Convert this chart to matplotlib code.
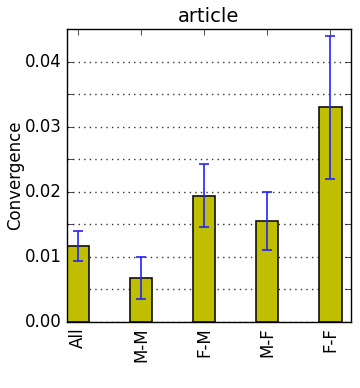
import matplotlib
matplotlib.use("Agg")
import matplotlib.pyplot as plt
import numpy as np

categories = ["All", "M-M", "F-M", "M-F", "F-F"]
values = [0.0117, 0.0068, 0.0194, 0.0155, 0.0330]
errors = [0.0023, 0.0032, 0.0048, 0.0045, 0.0110]
ytick_values = [0.0, 0.005, 0.01, 0.015, 0.02, 0.025, 0.03, 0.035, 0.04]
ytick_labels = ["0.00", "", "0.01", "", "0.02", "", "0.03", "", "0.04"]

plt.style.use("classic")
fig = plt.figure(figsize=(3.6, 3.88), dpi=100)
ax = fig.add_axes([67/360, 1-322/388, (351-67)/360, (322-29)/388])

ind = np.arange(len(categories))
width = 0.35
ax.bar(ind, values, width, color="y", edgecolor="#111111", linewidth=1.2, align="edge",
       yerr=errors, ecolor="#2222ff", capsize=3.5, error_kw=dict(elinewidth=1.2, capthick=1.2))
ax.set_xlim(0, 4.5)
ax.set_ylim(0, 0.045)
ax.set_xticks(ind + width / 2)
ax.set_xticklabels(categories, rotation=90, fontsize=12)
ax.set_yticks(ytick_values)
ax.set_yticklabels(ytick_labels, fontsize=12)
ax.yaxis.grid(True, which="major", linestyle=(0, (1, 3)), color="#333333", linewidth=1.0)
ax.set_axisbelow(True)
ax.set_ylabel("Convergence", fontsize=12, labelpad=0)
ax.set_title("article", fontsize=14)
fig.savefig("out.png", dpi=100)
